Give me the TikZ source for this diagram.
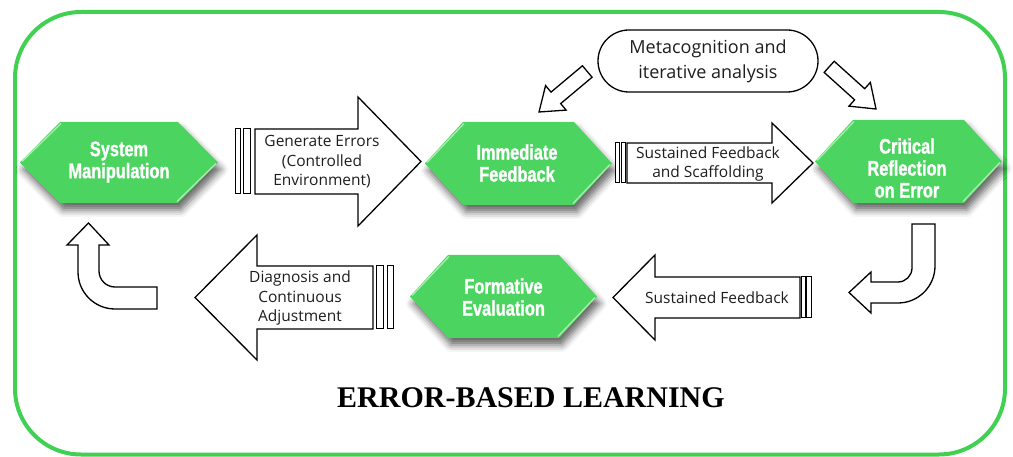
\documentclass[tikz,border=0pt]{standalone}
\usepackage{fontspec}
\setmainfont{Liberation Serif}
\newfontfamily\hexfont[FakeStretch=0.78,FakeBold=1.2]{Liberation Sans}
\newfontfamily\lblfont{Open Sans}
\usetikzlibrary{shadows.blur}

\definecolor{hexgreen}{RGB}{76,212,96}
\definecolor{framegreen}{RGB}{64,208,82}
\definecolor{hexedge}{RGB}{165,240,170}
\definecolor{inkgray}{RGB}{30,30,30}

% green hexagon: centre x, centre y, half width, half height, slant inset
\newcommand\hexbox[5]{%
  \path[hexshape] (#1-#3,#2) -- (#1-#3+#5,#2-#4) -- (#1+#3-#5,#2-#4) -- (#1+#3,#2)
    -- (#1+#3-#5,#2+#4) -- (#1-#3+#5,#2+#4) -- cycle;
  \draw[hexhighlight] (#1-#3+2,#2-1) -- (#1-#3+#5+1,#2-#4+1.5);
  \draw[hexhighlight] (#1+#3-2,#2+1) -- (#1+#3-#5-1,#2+#4-1.5);
}

% short straight block arrow: tip x, tip y, direction
\newcommand\diagarrow[3]{%
  \draw[blockarrow, shift={(#1,#2)}, rotate=#3]
    (0,0) -- (-22,16) -- (-22,7.5) -- (-63,7.5) -- (-63,-7.5) -- (-22,-7.5) -- (-22,-16) -- cycle;
}

\begin{document}
\begin{tikzpicture}[x=1pt,y=-1pt,
  hexshape/.style={fill=hexgreen,
    blur shadow={shadow xshift=3pt, shadow yshift=-7pt, shadow blur radius=7pt, shadow opacity=60}},
  hexhighlight/.style={draw=hexedge, line width=1.3pt},
  hexlabel/.style={text=white, align=center, inner sep=0pt,
    font=\hexfont\bfseries\fontsize{21}{22}\selectfont},
  arrowlabel/.style={text=inkgray, align=center, inner sep=0pt,
    font=\lblfont\fontsize{15.5}{19.5}\selectfont},
  blockarrow/.style={draw=black, line width=1.3pt, fill=white, line join=miter},
  tailbar/.style={draw=black, line width=1pt, fill=white},
]
\useasboundingbox (0,0) rectangle (1013,457);

% frame
\draw[framegreen, line width=4pt, rounded corners=66pt] (15,12) rectangle (1005,454.5);

% stage hexagons
\hexbox{119}{162.5}{99}{40.5}{40}
\hexbox{518.5}{163.5}{93.5}{41.5}{38}
\hexbox{908.5}{161.5}{93.5}{41.5}{38}
\hexbox{503.5}{296.5}{93.5}{41.5}{38}

\node[hexlabel] (sys)  at (119,162)   {System\\Manipulation};
\node[hexlabel] (imm)  at (517,163)   {Immediate\\Feedback};
\node[hexlabel] (crit) at (907,168)   {Critical\\Reflection\\on Error};
\node[hexlabel] (form) at (503.5,297) {Formative\\Evaluation};

% top row block arrows with double tail bars
\draw[blockarrow] (255,129) -- (358,129) -- (358,97) -- (421,161.5) -- (358,226) -- (358,194) -- (255,194) -- cycle;
\draw[tailbar] (243.5,129) rectangle (250.5,194);
\draw[tailbar] (235,129) rectangle (240.5,194);
\node[arrowlabel] (gen) at (322,162) {Generate Errors\\(Controlled\\Environment)};

\draw[blockarrow] (627,143) -- (772,143) -- (772,123) -- (813,163) -- (772,203) -- (772,183) -- (627,183) -- cycle;
\draw[tailbar] (621,143) rectangle (625.5,183);
\draw[tailbar] (615,143) rectangle (619.5,183);
\node[arrowlabel] (scaf) at (708,164) {Sustained Feedback\\and Scaffolding};

% bottom row block arrows pointing left
\draw[blockarrow] (800,277) -- (655,277) -- (655,255) -- (613,297.5) -- (655,340) -- (655,318) -- (800,318) -- cycle;
\draw[tailbar] (801.5,277) rectangle (805,318);
\draw[tailbar] (806.5,277) rectangle (811.5,318);
\node[arrowlabel] (sust) at (717,298) {Sustained Feedback};

\draw[blockarrow] (373,266) -- (257,266) -- (257,235) -- (195,297.5) -- (257,360) -- (257,329) -- (373,329) -- cycle;
\draw[tailbar] (376,266) rectangle (383,329);
\draw[tailbar] (387,266) rectangle (393,329);
\node[arrowlabel] (diag) at (300,298) {Diagnosis and\\Continuous\\Adjustment};

% bent arrows closing the loop
\draw[blockarrow] (912,224) -- (935,224) -- (935,266) .. controls (935,286.4) and (918.4,303) .. (898,303)
  -- (871,303) -- (871,313) -- (849,292.5) -- (871,272) -- (871,282) -- (898,282)
  .. controls (905.7,282) and (912,275.7) .. (912,268) -- cycle;
\draw[blockarrow] (157,287) -- (115,287) .. controls (106.2,287) and (99,279.8) .. (99,271)
  -- (99,245) -- (109,245) -- (88.5,223) -- (67,245) -- (78,245) -- (78,272)
  .. controls (78,292.4) and (94.6,309) .. (115,309) -- (157,309) -- cycle;

% metacognition bubble and its arrows
\node[draw=black, line width=1.3pt, rounded corners=31pt, minimum width=220pt, minimum height=62pt,
  align=center, text=inkgray, font=\lblfont\fontsize{18}{25}\selectfont] (meta) at (708,61)
  {Metacognition and\\iterative analysis};
\diagarrow{539}{112}{220}
\diagarrow{876}{109}{-42}

% title
\node[font=\bfseries\fontsize{30}{36}\selectfont, anchor=base] (title) at (531,407) {ERROR-BASED LEARNING};
\end{tikzpicture}
\end{document}
